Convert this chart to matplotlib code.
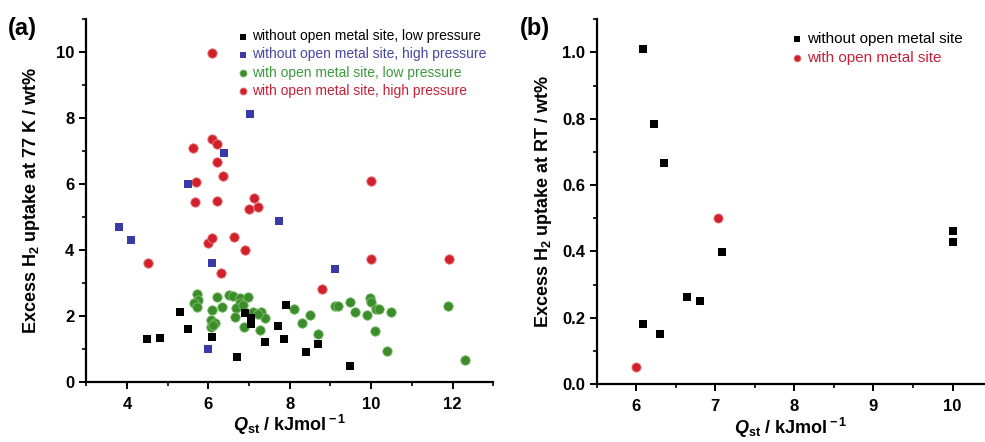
import matplotlib
matplotlib.use("Agg")
import matplotlib.pyplot as plt
from matplotlib.ticker import MultipleLocator, FormatStrFormatter

plt.rcParams['font.family'] = ['Liberation Sans', 'DejaVu Sans']
plt.rcParams['mathtext.fontset'] = 'custom'
plt.rcParams['mathtext.rm'] = 'Liberation Sans:bold'
plt.rcParams['mathtext.it'] = 'Liberation Sans:bold:italic'
plt.rcParams['mathtext.bf'] = 'Liberation Sans:bold'

# ---------------- Panel (a) data ----------------
a_black_x = [4.5, 4.8, 5.3, 5.5, 6.1, 6.7, 6.9, 7.05, 7.05, 7.4, 7.72, 7.85, 7.9, 8.39, 8.7, 9.49]
a_black_y = [1.30, 1.33, 2.10, 1.61, 1.35, 0.76, 2.08, 1.92, 1.76, 1.20, 1.69, 1.28, 2.31, 0.89, 1.15, 0.48]

a_blue_x = [3.8, 4.11, 5.5, 6.1, 6.0, 7.73, 7.03, 6.38, 9.1]
a_blue_y = [4.70, 4.30, 6.00, 3.59, 0.99, 4.88, 8.12, 6.92, 3.41]

a_green_x = [5.71, 5.75, 5.64, 5.71, 6.20, 6.34, 6.09, 6.51, 6.60, 6.77, 6.97, 6.77, 6.69,
             6.07, 6.16, 6.07, 6.65, 6.87, 7.09, 7.30, 7.38, 7.28, 8.10, 8.30,
             8.50, 8.70, 9.10, 9.18, 9.49, 9.59, 9.90, 9.98, 10.0, 10.12, 10.18, 10.10,
             10.49, 10.39, 11.89, 12.30, 6.12, 6.85, 7.22]
a_green_y = [2.66, 2.47, 2.38, 2.25, 2.56, 2.27, 2.17, 2.63, 2.60, 2.53, 2.56, 2.38, 2.22,
             1.87, 1.77, 1.67, 1.97, 1.65, 2.12, 2.12, 1.92, 1.57, 2.19, 1.77,
             2.02, 1.45, 2.29, 2.29, 2.41, 2.10, 2.01, 2.53, 2.42, 2.20, 2.20, 1.54,
             2.12, 0.94, 2.30, 0.65, 1.72, 2.32, 2.05]

a_red_x = [6.10, 5.63, 6.08, 6.20, 6.21, 6.35, 5.70, 5.68, 6.22, 7.11, 6.99, 7.22,
           6.00, 6.08, 6.64, 6.91, 6.30, 4.51, 10.0, 10.0, 11.9, 8.80]
a_red_y = [9.95, 7.07, 7.34, 7.21, 6.65, 6.24, 6.06, 5.44, 5.47, 5.56, 5.22, 5.30,
           4.19, 4.36, 4.37, 3.99, 3.28, 3.59, 6.08, 3.71, 3.71, 2.81]

a_labels = ["without open metal site, low pressure",
            "without open metal site, high pressure",
            "with open metal site, low pressure",
            "with open metal site, high pressure"]

# ---------------- Panel (b) data ----------------
b_black_x = [6.08, 6.22, 6.35, 7.09, 6.64, 6.80, 6.08, 6.30, 10.0, 10.0]
b_black_y = [1.01, 0.784, 0.666, 0.398, 0.261, 0.251, 0.181, 0.151, 0.461, 0.429]
b_red_x = [7.04, 6.0]
b_red_y = [0.50, 0.051]
b_labels = ["without open metal site", "with open metal site"]

BLACK = '#000000'
BLUE = '#3a3aa6'
GREEN = '#3c8c2c'
RED = '#d0202c'
TXT_BLUE = '#4646a0'
TXT_GREEN = '#3d9a3d'
TXT_RED = '#c82036'

fig = plt.figure(figsize=(9.85, 4.42), dpi=100)
ax1 = fig.add_axes([0.0876, 0.1364, 0.4132, 0.8213])
ax2 = fig.add_axes([0.6058, 0.1312, 0.3942, 0.8251])


def style(ax):
    for s in ['top', 'right']:
        ax.spines[s].set_visible(False)
    for s in ['left', 'bottom']:
        ax.spines[s].set_linewidth(1.6)
    ax.tick_params(which='major', direction='out', length=5, width=1.4,
                   labelsize=12)
    ax.tick_params(axis='x', which='major', pad=6)
    ax.tick_params(which='minor', direction='out', length=3, width=1.2)
    for lab in ax.get_xticklabels() + ax.get_yticklabels():
        lab.set_fontweight('bold')


# Panel (a)
h1 = ax1.scatter(a_black_x, a_black_y, marker='s', s=5.4**2, c=BLACK, linewidths=0, zorder=3)
h2 = ax1.scatter(a_blue_x, a_blue_y, marker='s', s=5.2**2, c=BLUE, linewidths=0, zorder=3)
h3 = ax1.scatter(a_green_x, a_green_y, marker='o', s=6.8**2, c=GREEN, edgecolors='#7fbf6f',
                 linewidths=0.6, zorder=2)
h4 = ax1.scatter(a_red_x, a_red_y, marker='o', s=6.8**2, c=RED, edgecolors='#e98080',
                 linewidths=0.6, zorder=2)
ax1.set_xlim(3, 13)
ax1.set_ylim(0, 11)
ax1.xaxis.set_major_locator(MultipleLocator(2))
ax1.xaxis.set_minor_locator(MultipleLocator(1))
ax1.yaxis.set_major_locator(MultipleLocator(2))
ax1.yaxis.set_minor_locator(MultipleLocator(1))
style(ax1)
ax1.set_xlabel(r'$Q_{\rm st}$ / kJmol$^{\rm -1}$', fontsize=13, fontweight='bold', labelpad=1)
ax1.set_ylabel(r'Excess H$_{\rm 2}$ uptake at 77 K / wt%', fontsize=13, fontweight='bold',
               labelpad=10)
leg1 = ax1.legend([h1, h2, h3, h4], a_labels, loc='upper left', bbox_to_anchor=(0.355, 0.99),
                  frameon=False, fontsize=10, handlelength=0.7, handletextpad=0.35,
                  labelspacing=0.3, borderpad=0, markerscale=0.75,
                  labelcolor=[BLACK, TXT_BLUE, TXT_GREEN, TXT_RED])

# Panel (b)
g1 = ax2.scatter(b_black_x, b_black_y, marker='s', s=6.0**2, c=BLACK, linewidths=0, zorder=3)
g2 = ax2.scatter(b_red_x, b_red_y, marker='o', s=6.6**2, c=RED, edgecolors='#e98080',
                 linewidths=0.6, zorder=3)
ax2.set_xlim(5.5, 10.41)
ax2.set_ylim(0, 1.1)
ax2.xaxis.set_major_locator(MultipleLocator(1))
ax2.xaxis.set_minor_locator(MultipleLocator(0.5))
ax2.yaxis.set_major_locator(MultipleLocator(0.2))
ax2.yaxis.set_minor_locator(MultipleLocator(0.1))
ax2.yaxis.set_major_formatter(FormatStrFormatter('%.1f'))
style(ax2)
ax2.set_xlabel(r'$Q_{\rm st}$ / kJmol$^{\rm -1}$', fontsize=13, fontweight='bold', labelpad=1)
ax2.set_ylabel(r'Excess H$_{\rm 2}$ uptake at RT / wt%', fontsize=13, fontweight='bold',
               labelpad=6)
leg2 = ax2.legend([g1, g2], b_labels, loc='upper left', bbox_to_anchor=(0.485, 0.985),
                  frameon=False, fontsize=11, handlelength=0.6, handletextpad=0.35,
                  labelspacing=0.3, borderpad=0, markerscale=0.75,
                  labelcolor=[BLACK, TXT_RED])

fig.text(0.008, 0.935, '(a)', fontsize=17, fontweight='bold', va='center', ha='left')
fig.text(0.528, 0.935, '(b)', fontsize=17, fontweight='bold', va='center', ha='left')

fig.savefig('out.png', dpi=100)
